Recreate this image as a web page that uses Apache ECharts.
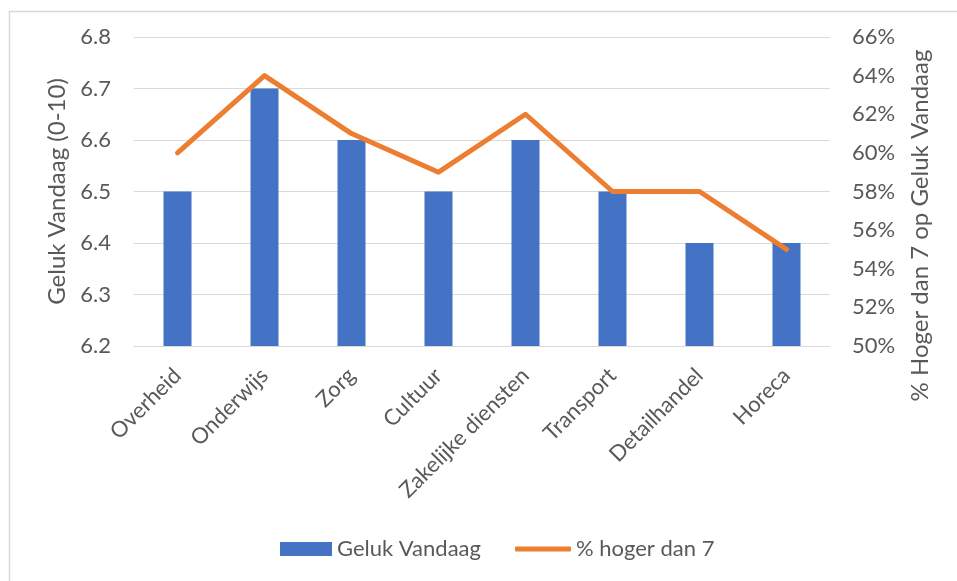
<!DOCTYPE html>
<html>
<head>
<meta charset="utf-8">
<script src="https://cdn.jsdelivr.net/npm/echarts@6/dist/echarts.min.js"></script>
<style>
html,body{margin:0;padding:0;background:#fff;}
#chart{width:957px;height:581px;}
</style>
</head>
<body>
<div id="chart"></div>
<script>
const categories = ['Overheid','Onderwijs','Zorg','Cultuur','Zakelijke diensten','Transport','Detailhandel','Horeca'];
const gelukVandaag = [6.5, 6.7, 6.6, 6.5, 6.6, 6.5, 6.4, 6.4];
const pctHogerDan7 = [60, 64, 61, 59, 62, 58, 58, 55];
const barName = 'Geluk Vandaag';
const lineName = '% hoger dan 7';
const leftTitle = 'Geluk Vandaag (0-10)';
const rightTitle = '% Hoger dan 7 op Geluk Vandaag';

const FONT = 'Lato';
const TXT = '#595959';
const chart = echarts.init(document.getElementById('chart'), null, {renderer:'canvas'});
chart.setOption({
  animation: false,
  backgroundColor: '#fff',
  textStyle: {fontFamily: FONT, color: TXT},
  graphic: [{
    type: 'rect', left: 7, top: 9, silent: true,
    shape: {width: 1000, height: 1000},
    style: {fill: 'none', stroke: '#D9D9D9', lineWidth: 1.5}
  }],
  grid: {left: 134, right: 127, top: 37, bottom: 235, containLabel: false, outerBoundsMode: 'none'},
  legend: [{
    data: [{name: barName, icon: 'rect'}],
    left: 275, top: 533, itemWidth: 52, itemHeight: 14, itemGap: 5,
    textStyle: {fontFamily: FONT, fontSize: 22, color: TXT}
  },{
    data: [{name: lineName, icon: 'roundRect'}],
    left: 510, top: 533, itemWidth: 56, itemHeight: 5, itemGap: 5,
    textStyle: {fontFamily: FONT, fontSize: 22, color: TXT}
  }],
  xAxis: {
    type: 'category', data: categories,
    axisLine: {lineStyle: {color: '#D9D9D9', width: 1}},
    axisTick: {show: false},
    axisLabel: {rotate: 45, fontFamily: FONT, fontSize: 22, color: TXT, margin: 26, interval: 0}
  },
  yAxis: [{
    type: 'value', min: 6.2, max: 6.8, interval: 0.1,
    name: leftTitle, nameLocation: 'middle', nameGap: 64, nameRotate: 90,
    nameTextStyle: {fontFamily: FONT, fontSize: 24, color: TXT},
    axisLine: {show: false}, axisTick: {show: false},
    axisLabel: {fontFamily: FONT, fontSize: 22, color: TXT, margin: 23, formatter: v => v.toFixed(1)},
    splitLine: {lineStyle: {color: '#D9D9D9', width: 1}}
  },{
    type: 'value', min: 50, max: 66, interval: 2,
    name: rightTitle, nameLocation: 'middle', nameGap: 78, nameRotate: 90,
    nameTextStyle: {fontFamily: FONT, fontSize: 24, color: TXT, padding: [0, 68, 0, 0], verticalAlign: 'top'},
    axisLine: {show: false}, axisTick: {show: false},
    axisLabel: {fontFamily: FONT, fontSize: 22, color: TXT, margin: 22, formatter: v => v + '%'},
    splitLine: {show: false}
  }],
  series: [{
    name: barName, type: 'bar', data: gelukVandaag, yAxisIndex: 0,
    barWidth: 28, itemStyle: {color: '#4472C4'}
  },{
    name: lineName, type: 'line', data: pctHogerDan7, yAxisIndex: 1,
    symbol: 'none', lineStyle: {color: '#ED7D31', width: 5, cap: 'round', join: 'round'},
    itemStyle: {color: '#ED7D31'}
  }]
});
</script>
</body>
</html>
